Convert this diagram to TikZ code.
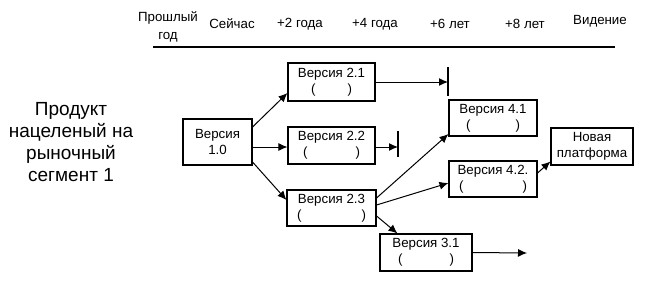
\documentclass[tikz,border=0pt]{standalone}
\usepackage{fontspec}
\setmainfont{Liberation Sans}
\usetikzlibrary{arrows.meta}
\begin{document}
\begin{tikzpicture}[x=1pt,y=-1pt,
  vbox/.style={draw,line width=1.1pt,inner sep=0pt,align=center,font=\fontsize{13.3}{16}\selectfont},
  hdr/.style={font=\fontsize{13.3}{18}\selectfont,align=center,inner sep=0pt},
  conn/.style={line width=1pt,-{Latex[length=9pt,width=8pt]}},
  barl/.style={line width=1.1pt}]
\useasboundingbox (0,0) rectangle (650,284);
% header
\node[hdr] (h0) at (168,27) {Прошлый\\год};
\node[hdr] (h1) at (232,24) {Сейчас};
\node[hdr] (h2) at (300,24) {+2 года};
\node[hdr] (h3) at (375,24) {+4 года};
\node[hdr] (h4) at (450,24) {+6 лет};
\node[hdr] (h5) at (525,24) {+8 лет};
\node[hdr] (h6) at (600,21) {Видение};
\coordinate (hl) at (153,47);
\coordinate (hr) at (615,47);
\draw[line width=1.1pt] (hl) -- (hr);
% left label
\node[align=center,font=\fontsize{19}{22}\selectfont,inner sep=0pt] (lbl) at (71,142) {Продукт\\нацеленый на\\рыночный\\сегмент 1};
% boxes
\node[vbox,minimum width=69pt,minimum height=46pt] (v10) at (217.5,142) {Версия\\1.0};
\node[vbox,minimum width=87pt,minimum height=38pt] (v21) at (331.5,82) {Версия 2.1\\(\hspace{32pt})};
\node[vbox,minimum width=87pt,minimum height=37pt] (v22) at (331.5,145.5) {Версия 2.2\\(\hspace{48pt})};
\node[vbox,minimum width=89pt,minimum height=36pt] (v23) at (331.5,208) {Версия 2.3\\(\hspace{60pt})};
\node[vbox,minimum width=92pt,minimum height=37pt] (v31) at (426,252.5) {Версия 3.1\\(\hspace{47pt})};
\node[vbox,minimum width=88pt,minimum height=36pt] (v41) at (493,118) {Версия 4.1\\(\hspace{45pt})};
\node[vbox,minimum width=88pt,minimum height=36pt] (v42) at (493,179) {Версия 4.2.\\(\hspace{59pt})};
\node[vbox,minimum width=82pt,minimum height=37pt] (np) at (592,146.5) {Новая\\платформа};
% bars and free ends
\coordinate (b21) at (448,82);
\coordinate (b21t) at (448,67);
\coordinate (b21b) at (448,96);
\coordinate (b22) at (398,147);
\coordinate (b22t) at (398,131);
\coordinate (b22b) at (398,157);
\coordinate (e31) at (527,253);
\draw[barl] (b21t) -- (b21b);
\draw[barl] (b22t) -- (b22b);
% connectors
\draw[conn] ([yshift=15pt]v10.east) -- ([yshift=-11pt]v21.west);
\draw[conn] ([yshift=-5pt]v10.east) -- ([yshift=-1.5pt]v22.west);
\draw[conn] ([yshift=-20pt]v10.east) -- ([yshift=8pt]v23.west);
\draw[conn] (v21.east) -- (b21);
\draw[conn] ([yshift=-1.5pt]v22.east) -- (b22);
\draw[conn] ([yshift=10pt]v23.east) -- ([yshift=-16pt]v41.west);
\draw[conn] ([yshift=3pt]v23.east) -- ([yshift=-4pt]v42.west);
\draw[conn] ([yshift=-8pt]v23.east) -- ([xshift=18pt]v31.north west);
\draw[conn] (v31.east) -- (e31);
\draw[conn] ([yshift=6pt]v42.east) -- ([yshift=-15pt]np.west);
\end{tikzpicture}
\end{document}
